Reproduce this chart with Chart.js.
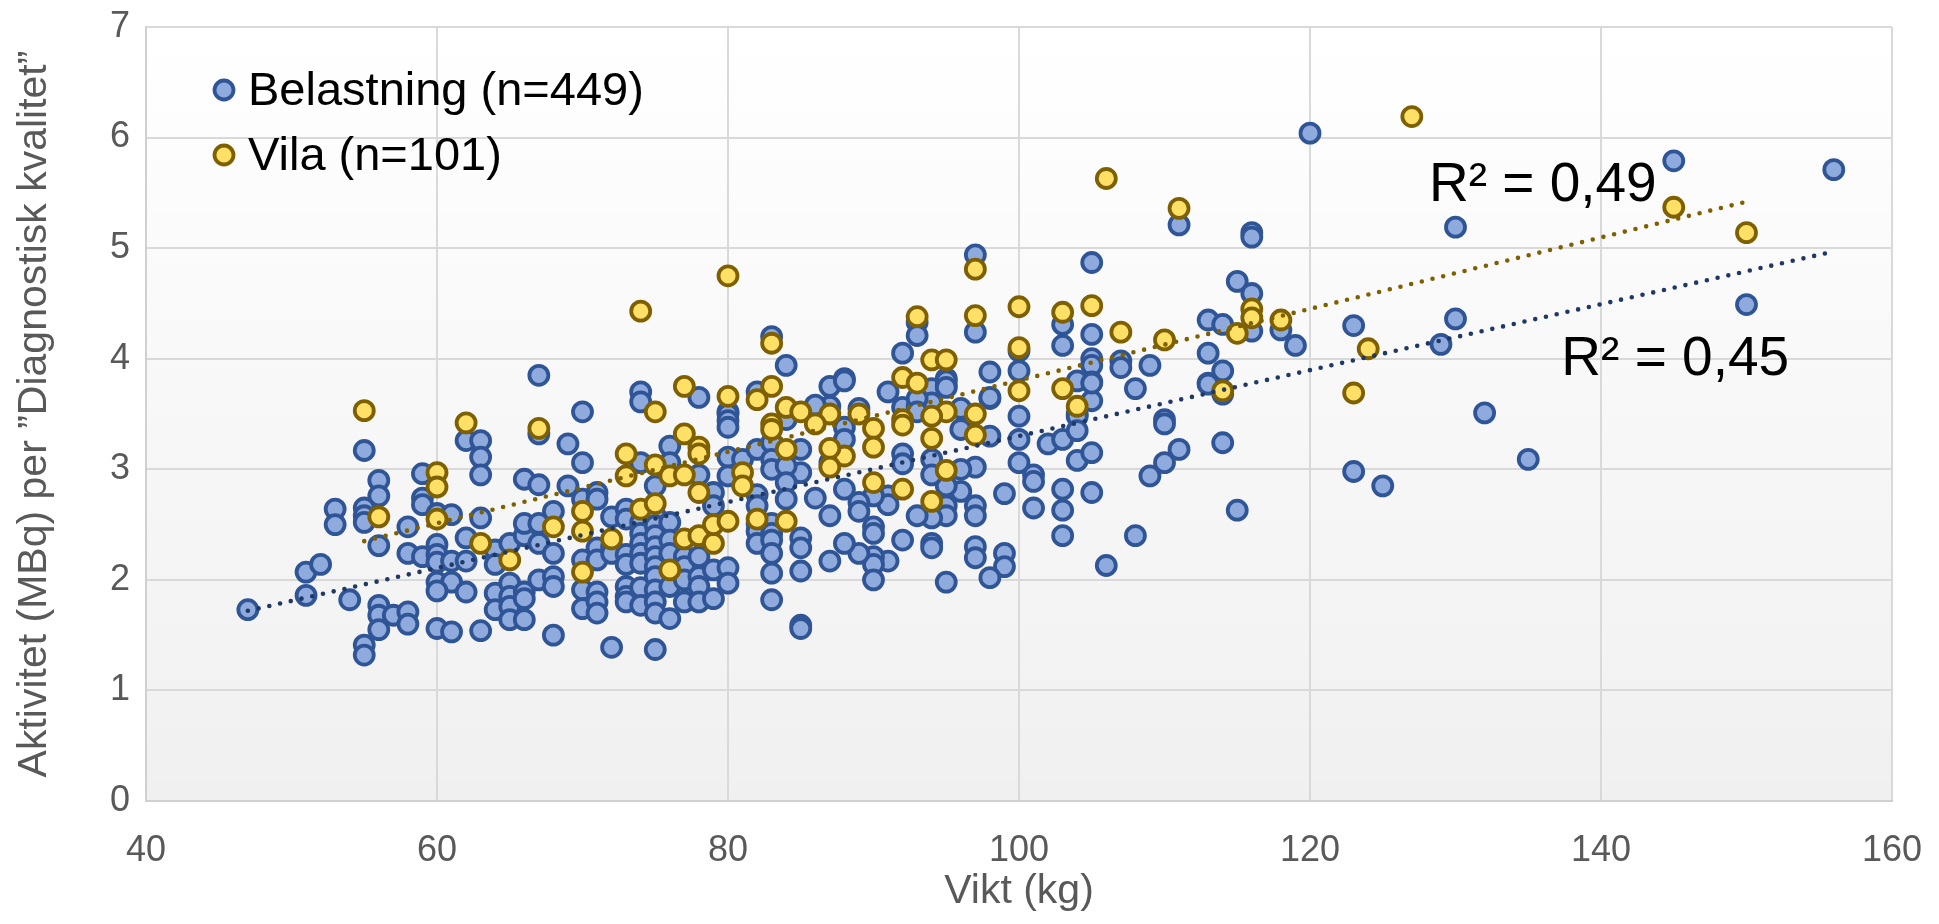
<!DOCTYPE html>
<html>
<head>
<meta charset="utf-8">
<script src="https://cdn.jsdelivr.net/npm/chart.js@4/dist/chart.umd.min.js"></script>
<style>
  body { margin: 0; background: #fff; }
</style>
</head>
<body>
<canvas id="myChart" width="1939" height="924"></canvas>
<script>
// Belastning (stress), [kg, MBq]
const belastning = [
    [67,3.85],[70,3.52],[74,3.70],[74,3.61],[83,4.20],[84,3.94],[78,3.65],[80,3.52],[82,3.70],[87,3.75],[88,3.82],[87,3.57],[86,3.58],
    [97,4.94],[97,4.24],[100,4.07],[100,3.89],[100,3.48],[93,4.33],[93,4.21],[92,4.05],[98,3.88],[95,3.82],[94,3.73],[91,3.70],[98,3.64],
    [95,3.76],[92,3.56],[93,3.57],[94,3.60],[96,3.55],[89,3.55],
    [120,6.04],[111,5.21],[116,5.14],[116,5.10],[105,4.87],[115,4.70],[116,4.59],[116,4.25],[118,4.26],[119,4.12],[113,4.35],[114,4.31],
    [113,4.05],[114,3.89],[113,3.78],[114,3.68],[103,4.31],[103,4.12],[105,4.22],[105,4.00],[105,3.94],[105,3.79],[105,3.62],[107,3.98],
    [107,3.92],[109,3.94],[108,3.73],[104,3.80],[104,3.50],[110,3.45],
    [145,5.79],[156,5.71],[130,5.19],[150,4.49],[123,4.30],[130,4.36],[129,4.13],[132,3.51],[135,3.09],[123,2.98],[125,2.85],
    [55,3.17],[62,3.26],[63,3.26],[63,3.11],[63,2.95],[59,2.96],[56,2.90],[56,2.76],[53,2.64],[53,2.50],[55,2.65],[55,2.58],[55,2.52],
    [58,2.48],[59,2.74],[59,2.68],[60,2.60],[61,2.59],[63,2.56],[56,2.31],[58,2.24],[59,2.21],[60,2.32],[60,2.23],[60,2.16],[61,2.17],
    [62,2.38],[62,2.17],[64,2.27],[64,2.14],[65,2.33],[51,2.07],[52,2.14],[47,1.73],[51,1.86],[54,1.82],[56,1.77],[56,1.68],[56,1.55],
    [57,1.68],[58,1.71],[58,1.60],[55,1.41],[55,1.32],[60,1.98],[61,1.98],[62,1.89],[60,1.56],[61,1.53],[63,1.54],[64,1.88],[64,1.73],
    [65,1.97],[65,1.85],[65,1.76],[65,1.64],[60,1.90],
    [80,3.50],[80,3.44],[80,3.38],[67,3.32],[69,3.23],[70,3.06],[74,3.06],[76,3.21],[76,3.06],[75,2.85],[78,2.95],[79,2.79],[79,2.67],
    [80,3.11],[80,2.94],[81,3.09],[82,3.18],[83,3.24],[83,3.09],[83,3.00],[82,2.77],[82,2.67],[82,2.51],[82,2.44],[82,2.33],[83,2.51],
    [83,2.42],[83,2.36],[83,2.24],[83,2.06],[83,1.82],[66,2.40],[66,2.91],[67,2.86],[66,2.51],[67,2.51],[68,2.62],[67,2.33],[68,2.24],
    [69,2.85],[70,2.73],[70,2.18],[70,1.91],[70,1.74],[71,2.79],[71,2.73],[71,2.29],[71,2.18],[71,1.89],[71,1.80],[71,1.70],[72,2.57],
    [72,2.30],[72,2.24],[73,2.64],[73,2.55],[73,2.23],[73,2.14],[73,1.94],[73,1.85],[73,1.80],[74,2.52],[74,2.42],[74,2.33],[74,2.24],
    [74,2.15],[74,1.93],[74,1.77],[75,2.58],[75,2.49],[75,2.40],[75,2.30],[75,2.21],[75,2.12],[75,2.03],[75,1.91],[75,1.80],[75,1.70],
    [76,2.52],[76,2.36],[76,2.24],[76,1.94],[76,1.65],[77,2.21],[77,2.12],[77,2.00],[77,1.80],[78,2.21],[78,2.03],[78,1.94],[78,1.80],
    [79,2.09],[79,1.83],[80,2.11],[80,1.97],[68,1.50],[72,1.39],[75,1.37],[66,1.89],[67,2.00],[68,2.03],[68,1.94],[66,1.83],[66,1.64],
    [88,3.80],[95,3.80],[95,3.74],[98,3.65],[100,3.27],[100,3.06],[102,3.23],[101,2.95],[101,2.89],[101,2.65],[99,2.78],[99,2.24],
    [99,2.12],[98,2.02],[97,3.02],[97,2.67],[97,2.58],[97,2.30],[97,2.20],[96,3.36],[96,2.80],[95,2.85],[95,2.67],[95,2.58],[95,1.98],
    [94,3.09],[94,2.95],[94,2.56],[94,2.33],[94,2.29],[93,2.58],[92,3.14],[92,3.05],[92,2.36],[91,2.76],[91,2.68],[91,2.17],[90,2.76],
    [90,2.48],[90,2.42],[90,2.21],[90,2.14],[90,2.00],[89,2.70],[89,2.62],[89,2.24],[88,3.38],[88,3.27],[88,2.82],[88,2.33],[87,3.06],
    [87,2.58],[87,2.17],[86,2.74],[85,3.18],[85,2.97],[85,2.38],[85,2.29],[85,2.08],[85,1.59],[85,1.56],[84,3.45],[84,3.03],[84,2.88],
    [84,2.73],[98,3.30],[96,3.00],[93,3.64],[93,3.52],
    [105,3.78],[104,3.48],[103,3.27],[104,3.35],[104,3.08],[105,3.15],[110,3.41],[111,3.18],[110,3.06],[109,2.94],[103,2.82],[103,2.63],
    [103,2.40],[105,2.79],[108,2.40],[106,2.13],[114,3.71],[114,3.24],[115,2.63],[113,3.77]
];

// Vila (rest), [kg, MBq]
const vila = [
    [55,3.53],[74,4.43],[62,3.42],[67,3.37],[80,4.75],[83,4.14],[77,3.75],[80,3.66],[83,3.75],[82,3.63],[84,3.56],[85,3.52],[87,3.50],[75,3.52],
    [97,4.81],[97,4.39],[100,4.47],[100,4.10],[100,3.71],[93,4.38],[94,3.99],[95,3.99],[92,3.83],[93,3.78],[95,3.52],[97,3.50],[94,3.48],
    [89,3.50],[92,3.45],
    [106,5.63],[111,5.36],[116,4.45],[116,4.37],[115,4.23],[118,4.35],[114,3.71],[103,4.42],[105,4.48],[107,4.24],[110,4.17],[103,3.73],[104,3.57],
    [127,6.19],[145,5.37],[150,5.14],[124,4.09],[123,3.69],
    [60,2.97],[60,2.84],[56,2.57],[60,2.55],[63,2.33],[65,2.18],
    [73,3.14],[73,2.94],[75,3.04],[76,2.94],[77,2.95],[77,3.32],[78,3.20],[78,3.14],[78,2.79],[81,2.97],[81,2.85],[83,3.41],[83,3.36],
    [84,3.18],[82,2.55],[84,2.53],[68,2.48],[70,2.62],[70,2.44],[70,2.07],[72,2.37],[74,2.64],[75,2.69],[76,2.09],[77,2.37],[78,2.40],
    [79,2.33],[79,2.50],[80,2.53],
    [97,3.31],[95,2.99],[94,3.28],[94,2.71],[92,3.40],[92,2.82],[90,3.37],[90,3.20],[90,2.88],[88,3.12],[87,3.19],[87,3.02],[86,3.41]
];

// linear trend lines, start and end
const trendBelastning = [[47,1.72],[156,4.97]];
const trendVila = [[55,2.35],[150,5.42]];

const seriesNames = ['Belastning (n=449)', 'Vila (n=101)'];
const r2Texts = ['R² = 0,49', 'R² = 0,45'];
const r2Pos = [[136.0,5.59],[145.1,4.02]];

const xTitle = 'Vikt (kg)';
const yTitle = 'Aktivitet (MBq) per ”Diagnostisk kvalitet”';

const FONT = "'Liberation Sans', Arial, sans-serif";
const toXY = arr => arr.map(p => ({x: p[0], y: p[1]}));

const blueFill = '#8faadc', blueBorder = '#2f5597';
const yellowFill = '#ffe066', yellowBorder = '#7f6000';
const R = 9.5, BW = 3.8;

// plot background + legend + R² labels
const extras = {
    id: 'extras',
    beforeDraw(chart) {
        const {ctx, chartArea: a} = chart;
        const g = ctx.createLinearGradient(0, a.top, 0, a.bottom);
        g.addColorStop(0, '#ffffff');
        g.addColorStop(1, '#f0f0f0');
        ctx.save();
        ctx.fillStyle = g;
        ctx.fillRect(a.left, a.top, a.right - a.left, a.bottom - a.top);
        ctx.restore();
    },
    afterDraw(chart) {
        const ctx = chart.ctx;
        const x = chart.scales.x, y = chart.scales.y;
        ctx.save();
        // legend
        const items = [[blueFill, blueBorder], [yellowFill, yellowBorder]];
        ctx.font = '47px ' + FONT;
        ctx.textBaseline = 'middle';
        ctx.textAlign = 'left';
        items.forEach((c, i) => {
            const cy = 90 + i * 65;
            ctx.beginPath();
            ctx.arc(224, cy, R, 0, Math.PI * 2);
            ctx.fillStyle = c[0];
            ctx.fill();
            ctx.lineWidth = BW;
            ctx.strokeStyle = c[1];
            ctx.stroke();
            ctx.fillStyle = '#000';
            ctx.fillText(seriesNames[i], 248, cy + 2);
        });
        // R² labels
        ctx.font = '55px ' + FONT;
        ctx.textAlign = 'center';
        r2Texts.forEach((t, i) => {
            ctx.fillText(t, x.getPixelForValue(r2Pos[i][0]), y.getPixelForValue(r2Pos[i][1]) + 3);
        });
        ctx.restore();
    }
};

const ctx = document.getElementById('myChart');
const myChart = new Chart(ctx, {
    type: 'scatter',
    data: {
        datasets: [{
            label: 'trend vila',
            type: 'line',
            data: toXY(trendVila),
            borderColor: '#7f6000',
            borderWidth: 4.6,
            borderDash: [0, 11],
            borderCapStyle: 'round',
            pointRadius: 0,
            fill: false,
            order: 0
        }, {
            label: 'trend belastning',
            type: 'line',
            data: toXY(trendBelastning),
            borderColor: '#1f3864',
            borderWidth: 4.6,
            borderDash: [0, 11],
            borderCapStyle: 'round',
            pointRadius: 0,
            fill: false,
            order: 0
        }, {
            label: seriesNames[1],
            data: toXY(vila),
            backgroundColor: yellowFill,
            borderColor: yellowBorder,
            borderWidth: BW,
            pointRadius: R,
            order: 1
        }, {
            label: seriesNames[0],
            data: toXY(belastning),
            backgroundColor: blueFill,
            borderColor: blueBorder,
            borderWidth: BW,
            pointRadius: R,
            order: 2
        }]
    },
    options: {
        responsive: false,
        animation: false,
        devicePixelRatio: 1,
        layout: {
            padding: {top: 27, right: 47, left: 0, bottom: 0}
        },
        plugins: {
            legend: {display: false},
            tooltip: {enabled: false}
        },
        scales: {
            x: {
                type: 'linear',
                min: 40,
                max: 160,
                ticks: {
                    stepSize: 20,
                    padding: 28,
                    color: '#595959',
                    font: {family: FONT, size: 36}
                },
                grid: {color: '#d9d9d9', lineWidth: 2, drawTicks: false},
                border: {color: '#d0d0d0', width: 2},
                title: {
                    display: true,
                    text: xTitle,
                    color: '#595959',
                    font: {family: FONT, size: 41},
                    padding: {top: 0, bottom: 8}
                },
                afterFit(scale) {
                    scale.height = 123;
                    scale.paddingLeft = 0;
                    scale.paddingRight = 0;
                }
            },
            y: {
                min: 0,
                max: 7,
                ticks: {
                    stepSize: 1,
                    padding: 16,
                    color: '#595959',
                    font: {family: FONT, size: 36}
                },
                grid: {color: '#d9d9d9', lineWidth: 2, drawTicks: false},
                border: {color: '#d0d0d0', width: 2},
                title: {
                    display: true,
                    text: yTitle,
                    color: '#595959',
                    font: {family: FONT, size: 41},
                    padding: {top: 10, bottom: 0}
                },
                afterFit(scale) {
                    scale.width = 146;
                    scale.paddingTop = 0;
                    scale.paddingBottom = 0;
                }
            }
        }
    },
    plugins: [extras]
});
</script>
</body>
</html>
